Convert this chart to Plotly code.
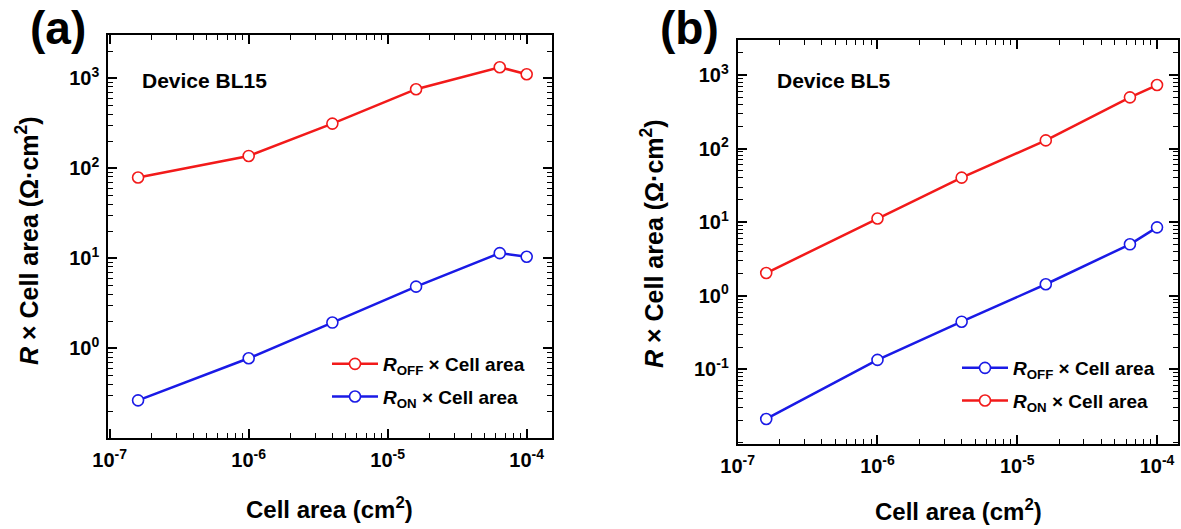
import plotly.graph_objects as go

# ---------------- data ----------------
cell_area = [1.6e-7, 1e-6, 4e-6, 1.6e-5, 6.4e-5, 1e-4]

# panel (a): Device BL15
a_roff = [79, 137, 313, 755, 1325, 1108]
a_ron = [0.264, 0.774, 1.93, 4.84, 11.4, 10.4]

# panel (b): Device BL5 (labels as in the reference legend)
b_roff = [0.0211, 0.134, 0.443, 1.43, 4.99, 8.49]   # blue
b_ron = [2.03, 11.2, 40.2, 129, 496, 729]           # red

x_tickvals = [1e-7, 1e-6, 1e-5, 1e-4]
x_ticktext = ["10<sup>-7</sup>", "10<sup>-6</sup>", "10<sup>-5</sup>", "10<sup>-4</sup>"]
a_y_tickvals = [1, 10, 100, 1000]
a_y_ticktext = ["10<sup>0</sup>", "10<sup>1</sup>", "10<sup>2</sup>", "10<sup>3</sup>"]
b_y_tickvals = [0.1, 1, 10, 100, 1000]
b_y_ticktext = ["10<sup>-1</sup>", "10<sup>0</sup>", "10<sup>1</sup>", "10<sup>2</sup>", "10<sup>3</sup>"]

label_off = "<i>R</i><sub>OFF</sub> × Cell area"
label_on = "<i>R</i><sub>ON</sub> × Cell area"
x_title = "Cell area (cm<sup>2</sup>)"
y_title = "<i>R</i> × Cell area (Ω·cm<sup>2</sup>)"

# ---------------- style ----------------
FONT = "Liberation Sans, Arial, sans-serif"
RED = "#f21a1a"
BLUE = "#1a1ae6"
W, H = 1181, 529


def series(x, y, color, name, xa, ya, legend):
    return go.Scatter(
        x=x, y=y, name=name, mode="lines+markers", xaxis=xa, yaxis=ya,
        legend=legend, legendgroup=name + legend,
        line=dict(color=color, width=2.5),
        marker=dict(symbol="circle", size=11, color="white",
                    line=dict(color=color, width=1.6)),
    )


fig = go.Figure()
fig.add_trace(series(cell_area, a_roff, RED, label_off, "x", "y", "legend"))
fig.add_trace(series(cell_area, a_ron, BLUE, label_on, "x", "y", "legend"))
fig.add_trace(series(cell_area, b_roff, BLUE, label_off, "x2", "y2", "legend2"))
fig.add_trace(series(cell_area, b_ron, RED, label_on, "x2", "y2", "legend2"))

tickfont = dict(family=FONT, size=20, color="black", weight="bold")


def axis(domain, rng, tickvals, ticktext, anchor):
    return dict(
        type="log", domain=domain, range=rng, anchor=anchor, automargin=False,
        showline=True, linewidth=2, linecolor="black", mirror="allticks",
        ticks="inside", ticklen=9, tickwidth=1.5, tickcolor="black",
        tickmode="array", tickvals=tickvals, ticktext=ticktext,
        tickfont=tickfont, showgrid=False, zeroline=False, ticklabelstandoff=3,
        minor=dict(ticks="inside", ticklen=5, tickwidth=1.3, tickcolor="black",
                   dtick="D1", showgrid=False),
    )


xa_dom = [108.3 / W, 551.7 / W]
ya_dom = [1 - 438.3 / H, 1 - 35 / H]
xb_dom = [737.7 / W, 1178 / W]
yb_dom = [1 - 444.3 / H, 1 - 40 / H]


def txt(text, x, y, size, angle=0):
    return dict(text=text, x=x / W, y=1 - y / H, xref="paper", yref="paper",
                showarrow=False, textangle=angle, xanchor="center", yanchor="middle",
                font=dict(family=FONT, size=size, color="black", weight="bold"))


legend_font = dict(family=FONT, size=19, color="black", weight="bold")

fig.update_layout(
    width=W, height=H,
    margin=dict(l=0, r=0, t=0, b=0, autoexpand=False),
    paper_bgcolor="white", plot_bgcolor="white",
    font=dict(family=FONT, color="black"),
    xaxis=axis(xa_dom, [-7.01, -3.82], x_tickvals, x_ticktext, "y"),
    yaxis=axis(ya_dom, [-1.0, 3.48], a_y_tickvals, a_y_ticktext, "x"),
    xaxis2=axis(xb_dom, [-7.0, -3.85], x_tickvals, x_ticktext, "y2"),
    yaxis2=axis(yb_dom, [-2.02, 3.475], b_y_tickvals, b_y_ticktext, "x2"),
    legend=dict(x=327 / W, y=1 - 345 / H, xanchor="left", yanchor="top",
                bgcolor="rgba(0,0,0,0)", borderwidth=0, tracegroupgap=5,
                itemwidth=46, font=legend_font),
    legend2=dict(x=957 / W, y=1 - 349 / H, xanchor="left", yanchor="top",
                 bgcolor="rgba(0,0,0,0)", borderwidth=0, tracegroupgap=5,
                 itemwidth=46, font=legend_font),
    annotations=[
        txt("(a)", 58, 28, 46),
        txt("(b)", 690, 28, 46),
        txt("Device BL15", 205, 80, 21),
        txt("Device BL5", 834, 80, 21),
        txt(x_title, 330, 508, 24),
        txt(x_title, 958, 510, 24),
        txt(y_title, 27, 241, 25, -90),
        txt(y_title, 652, 244, 25, -90),
    ],
)

fig.write_html("out.html")
